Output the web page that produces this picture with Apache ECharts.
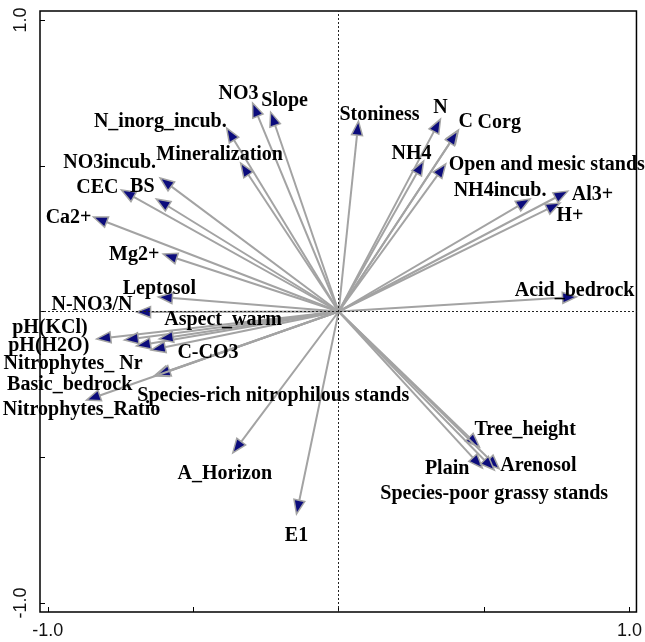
<!DOCTYPE html>
<html>
<head>
<meta charset="utf-8">
<script src="https://cdn.jsdelivr.net/npm/echarts@6/dist/echarts.min.js"></script>
<style>html,body{margin:0;padding:0;background:#fff}#c{width:645px;height:642px}</style>
</head>
<body>
<div id="c"></div>
<script>
// ---- data ----
const names = ["NO3","Slope","N_inorg_incub.","Mineralization","NO3incub.","CEC","BS","Ca2+","Mg2+","Leptosol","N-NO3/N",
  "pH(KCl)","pH(H2O)","Nitrophytes_ Nr","Aspect_warm","C-CO3","Basic_bedrock","Species-rich nitrophilous stands","Nitrophytes_Ratio",
  "A_Horizon","E1","Stoniness","N","C","Corg","NH4","Open and mesic stands","NH4incub.","Al3+","H+","Acid_bedrock",
  "Tree_height","Plain","Arenosol","Species-poor grassy stands"];
const axis1 = [-0.296,-0.234,-0.385,-0.337,-0.614,-0.747,-0.627,-0.843,-0.603,-0.620,-0.695,
  -0.832,-0.737,-0.695,-0.617,-0.644,-0.634,-0.627,-0.867,
  -0.364,-0.145,0.068,0.350,0.412,0.409,0.292,0.368,0.658,0.788,0.761,0.818,
  0.484,0.494,0.552,0.535];
const axis2 = [0.715,0.684,0.629,0.509,0.458,0.417,0.386,0.324,0.197,0.050,-0.002,
  -0.094,-0.098,-0.118,-0.094,-0.132,-0.221,-0.219,-0.304,
  -0.485,-0.695,0.653,0.660,0.623,0.619,0.516,0.506,0.386,0.413,0.372,0.050,
  -0.465,-0.537,-0.540,-0.544];
const tickValues = [-1,-0.5,0,0.5,1];
const tickLabels = [-1,1];

// ---- label placement (pixel offsets from arrow tip) ----
const labelLayout = {
  "NO3":[-14,-9,"center"],"Slope":[14,-11,"center"],"N_inorg_incub.":[0,-6,"right"],"Mineralization":[-21,-8,"center"],
  "NO3incub.":[-4,-15,"right"],"CEC":[-3,-2,"right"],"BS":[-14,-12,"center"],"Ca2+":[-2,1,"right"],"Mg2+":[-4,1,"right"],
  "Leptosol":[1,-8,"center"],"N-NO3/N":[-4,-7,"right"],"pH(KCl)":[-9,-11,"right"],"pH(H2O)":[-35,6,"right"],
  "Nitrophytes_ Nr":[6,18,"right"],"Aspect_warm":[5,-19,"left"],"C-CO3":[26,3,"left"],"Basic_bedrock":[-22,9,"right"],
  "Species-rich nitrophilous stands":[-19,20,"left"],"Nitrophytes_Ratio":[-5,10,"center"],"A_Horizon":[-8,21,"center"],
  "E1":[0,22,"center"],"Stoniness":[21,-6,"center"],"N":[0,-11,"center"],"C":[0,-8,"left"],"Corg":[20,-8,"left"],
  "NH4":[-12,-7,"center"],"Open and mesic stands":[3,1,"left"],"NH4incub.":[-30,-8,"center"],"Al3+":[4,4,"left"],
  "H+":[10,13,"center"],"Acid_bedrock":[-2,-6,"center"],"Tree_height":[-5,-17,"left"],"Plain":[-13,1,"right"],
  "Arenosol":[1,-3,"left"],"Species-poor grassy stands":[0,24,"center"]
};

const pts = names.map((n,i)=>[axis1[i],axis2[i],n]);
const chart = echarts.init(document.getElementById('c'), null, {renderer:'canvas'});

function arrowItem(params, api){
  const o = api.coord([0,0]);
  const p = api.coord([api.value(0), api.value(1)]);
  const dx = p[0]-o[0], dy = p[1]-o[1];
  const L = Math.hypot(dx,dy) || 1;
  const ux = dx/L, uy = dy/L;
  const hl = 14, hw = 5.5;
  const b = [p[0]-ux*hl, p[1]-uy*hl];
  const l = [b[0]-uy*hw, b[1]+ux*hw];
  const r = [b[0]+uy*hw, b[1]-ux*hw];
  return {type:'group', children:[
    {type:'line', shape:{x1:o[0],y1:o[1],x2:b[0]+ux*3,y2:b[1]+uy*3}, style:{stroke:'#a3a3a3', lineWidth:2}},
    {type:'polygon', shape:{points:[p,l,r]}, style:{fill:'#0c0c7c', stroke:'#a3a3a3', lineWidth:1.5}}
  ]};
}
function labelItem(params, api){
  const p = api.coord([api.value(0), api.value(1)]);
  const n = names[params.dataIndex];
  const lay = labelLayout[n] || [0,0,'center'];
  return {type:'text', x:p[0]+lay[0], y:p[1]+lay[1], style:{
    text:n, font:'bold 20px "Liberation Serif", "Times New Roman", serif', fill:'#000',
    align:lay[2], verticalAlign:'middle'}};
}

chart.setOption({
  animation:false,
  grid:{left:40, right:5, top:11, bottom:30, show:true, borderColor:'#000', borderWidth:1.5, backgroundColor:'transparent'},
  xAxis:{type:'value', min:-1.027, max:1.024,
    axisLine:{show:false, onZero:false}, splitLine:{show:false},
    axisTick:{show:true, inside:true, length:5, customValues:tickValues, lineStyle:{color:'#000', width:1}},
    axisLabel:{customValues:tickLabels, formatter:v=>v.toFixed(1), fontFamily:'"Liberation Sans", Arial, sans-serif', fontSize:18, color:'#111', margin:10}},
  yAxis:{type:'value', min:-1.031, max:1.031,
    axisLine:{show:false, onZero:false}, splitLine:{show:false},
    axisTick:{show:true, inside:true, length:5, customValues:tickValues, lineStyle:{color:'#000', width:1}},
    axisLabel:{customValues:tickLabels, rotate:90, formatter:v=>v.toFixed(1), fontFamily:'"Liberation Sans", Arial, sans-serif', fontSize:18, color:'#111', margin:10}},
  series:[
    {type:'line', data:[], z:1, silent:true,
      markLine:{silent:true, symbol:'none', label:{show:false},
        lineStyle:{type:[2,2], color:'#222', width:1},
        data:[{xAxis:0},{yAxis:0}]}},
    {type:'custom', z:2, data:pts, renderItem:arrowItem, silent:true},
    {type:'custom', z:3, data:pts, renderItem:labelItem, silent:true}
  ]
});
</script>
</body>
</html>
